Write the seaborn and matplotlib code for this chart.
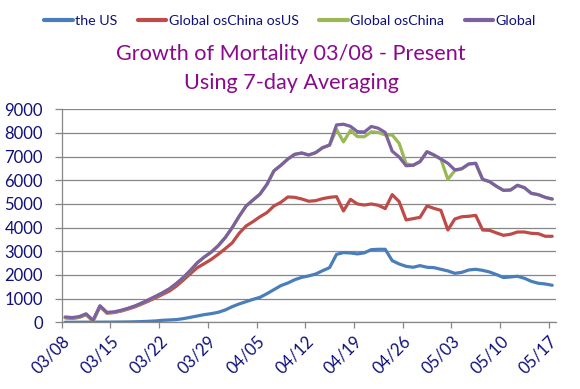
import matplotlib
matplotlib.use("Agg")
import matplotlib.pyplot as plt
import numpy as np
import pandas as pd
import seaborn as sns

# ---------------- data (7-day averaged daily deaths) ----------------
start_date = "2020-03-08"
n_days = 71
tick_labels = ["03/08", "03/15", "03/22", "03/29", "04/05", "04/12",
               "04/19", "04/26", "05/03", "05/10", "05/17"]

us = [3, 3, 4, 5, 6, 7, 8, 10, 12, 16, 22, 30, 42, 58, 85, 100, 115, 155, 210, 268,
      325, 366, 423, 520, 660, 775, 873, 970, 1055, 1210, 1380, 1550, 1660, 1800, 1900,
      1960, 2040, 2180, 2310, 2870, 2945, 2930, 2890, 2935, 3070, 3085, 3085, 2605, 2465,
      2365, 2325, 2395, 2325, 2310, 2240, 2170, 2070, 2110, 2210, 2240, 2195, 2125, 2015,
      1890, 1915, 1945, 1860, 1730, 1650, 1620, 1565]

global_ex_china_ex_us = [190, 165, 205, 320, 50, 660, 385, 410, 470, 555, 650, 770, 900,
      1035, 1180, 1325, 1535, 1790, 2055, 2310, 2480, 2660, 2875, 3110, 3355, 3760, 4070,
      4255, 4460, 4635, 4915, 5070, 5295, 5280, 5210, 5115, 5140, 5225, 5280, 5310, 4705,
      5195, 5000, 4955, 5000, 4945, 4805, 5395, 5100, 4325, 4380, 4435, 4915, 4815, 4730,
      3900, 4365, 4460, 4480, 4520, 3900, 3885, 3775, 3675, 3720, 3815, 3815, 3760, 3745,
      3635, 3635]

global_ex_china = [200, 175, 215, 335, 62, 680, 400, 425, 490, 578, 680, 805, 945, 1090,
      1243, 1414, 1640, 1895, 2190, 2515, 2755, 2965, 3235, 3575, 3995, 4475, 4910, 5165,
      5415, 5825, 6395, 6630, 6895, 7095, 7150, 7065, 7165, 7375, 7485, 8150, 7620, 8110,
      7845, 7840, 8050, 8020, 7915, 7915, 7560, 6700, 6630, 6785, 7205, 7065, 6895, 6040,
      6410, 6485, 6685, 6715, 6035, 5940, 5740, 5570, 5585, 5785, 5685, 5445, 5390, 5275,
      5205]

global_all = [225, 200, 240, 360, 85, 700, 420, 440, 505, 590, 690, 815, 955, 1100, 1250,
      1420, 1645, 1900, 2195, 2520, 2760, 2970, 3240, 3580, 4000, 4480, 4915, 5170, 5420,
      5830, 6400, 6635, 6900, 7100, 7155, 7070, 7170, 7380, 7490, 8340, 8370, 8280, 8055,
      8040, 8275, 8200, 8020, 7230, 6985, 6615, 6635, 6790, 7210, 7070, 6900, 6720, 6440,
      6490, 6690, 6720, 6040, 5945, 5745, 5575, 5590, 5790, 5690, 5450, 5395, 5280, 5210]

series_names = ["the US", "Global osChina osUS", "Global osChina", "Global"]
series_values = [us, global_ex_china_ex_us, global_ex_china, global_all]
series_colors = ["#4A7EBB", "#BE4B48", "#98B954", "#7D60A0"]

# ---------------- build table ----------------
dates = pd.date_range(start_date, periods=n_days)
frames = []
for name, vals in zip(series_names, series_values):
    frames.append(pd.DataFrame({"date": dates + pd.Timedelta(hours=12),
                                "deaths": vals, "series": name}))
df = pd.concat(frames, ignore_index=True)

# ---------------- plot ----------------
sns.set_theme(style="white")
plt.rcParams["font.family"] = ["Lato", "DejaVu Sans"]

fig = plt.figure(figsize=(5.8, 3.89), dpi=100)
ax = fig.add_axes([61.7 / 580, 1 - 322.3 / 389, (555.7 - 61.7) / 580, (322.3 - 109.3) / 389])

sns.lineplot(data=df, x="date", y="deaths", hue="series", hue_order=series_names,
             palette=dict(zip(series_names, series_colors)), linewidth=2.3,
             ax=ax, legend=False, estimator=None)

ax.set_xlim(pd.Timestamp(start_date), pd.Timestamp(start_date) + pd.Timedelta(days=n_days))
ax.set_ylim(0, 9000)
ax.set_yticks(np.arange(0, 9001, 1000))
tick_dates = [pd.Timestamp(start_date) + pd.Timedelta(days=7 * i) for i in range(len(tick_labels))]
ax.set_xticks(tick_dates)
ax.set_xticklabels(tick_labels)

grid_c = "#868686"
ax.yaxis.grid(True, color=grid_c, linewidth=0.9)
ax.xaxis.grid(False)
ax.set_axisbelow(True)
for s in ["top", "right"]:
    ax.spines[s].set_visible(False)
for s in ["left", "bottom"]:
    ax.spines[s].set_color(grid_c)
    ax.spines[s].set_linewidth(0.9)

label_c = "#10107A"
ax.tick_params(axis="y", which="major", direction="out", length=5, width=0.9,
               color=grid_c, labelcolor=label_c, labelsize=12, pad=8.5, left=True)
ax.tick_params(axis="x", which="major", direction="out", length=4.5, width=0.9,
               color=grid_c, labelcolor=label_c, labelsize=12, pad=3, bottom=True)
for lbl in ax.get_xticklabels():
    lbl.set_rotation(45)
    lbl.set_ha("right")
    lbl.set_va("top")
    lbl.set_rotation_mode("anchor")

ax.set_xlabel("")
ax.set_ylabel("")

# legend
handles = [plt.Line2D([], [], color=c, linewidth=3) for c in series_colors]
leg = fig.legend(handles, series_names, loc="center", bbox_to_anchor=(290 / 580, 1 - 21 / 389),
                 ncol=4, frameon=False, fontsize=10.3, handlelength=2.0, handletextpad=0.15,
                 columnspacing=1.45)
for t in leg.get_texts():
    t.set_color(label_c)

# title
title_c = "#8B0A8B"
fig.text(290.5 / 580, 1 - 54 / 389, "Growth of Mortality 03/08 - Present", ha="center",
         va="center", fontsize=15.6, color=title_c)
fig.text(291.5 / 580, 1 - 83 / 389, "Using 7-day Averaging", ha="center",
         va="center", fontsize=15.6, color=title_c)

fig.savefig("out.png", dpi=100)
